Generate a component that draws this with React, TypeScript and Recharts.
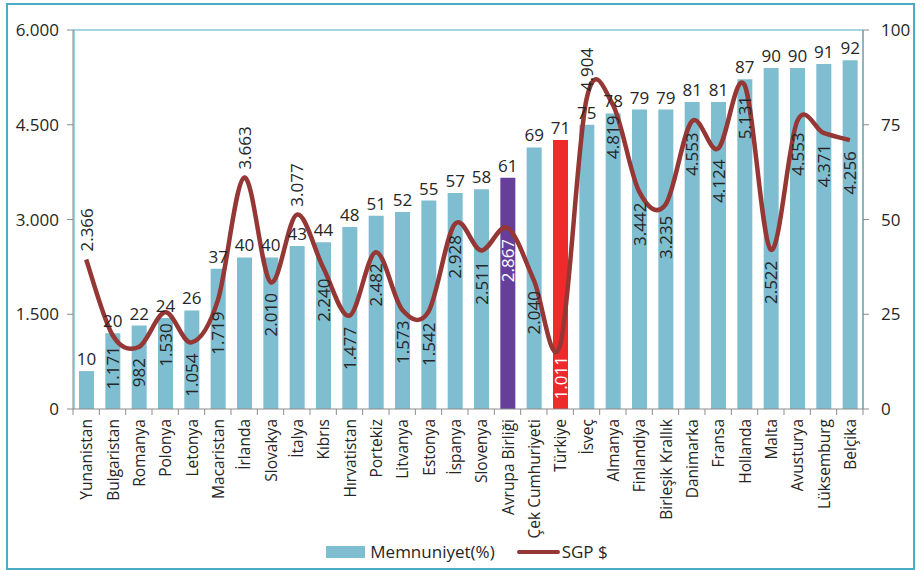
import {
  ComposedChart,
  Bar,
  Line,
  XAxis,
  YAxis,
  Legend,
  LabelList,
  Cell,
  CartesianGrid,
} from "recharts";

const countries = [
  "Yunanistan", "Bulgaristan", "Romanya", "Polonya", "Letonya", "Macaristan",
  "İrlanda", "Slovakya", "İtalya", "Kıbrıs", "Hırvatistan", "Portekiz",
  "Litvanya", "Estonya", "İspanya", "Slovenya", "Avrupa Birliği",
  "Çek Cumhuriyeti", "Türkiye", "İsveç", "Almanya", "Finlandiya",
  "Birleşik Krallık", "Danimarka", "Fransa", "Hollanda", "Malta",
  "Avusturya", "Lüksemburg", "Belçika",
];

// Memnuniyet (%), right axis
const memnuniyet = [
  10, 20, 22, 24, 26, 37, 40, 40, 43, 44, 48, 51, 52, 55, 57, 58, 61, 69, 71,
  75, 78, 79, 79, 81, 81, 87, 90, 90, 91, 92,
];

// SGP $, left axis
const sgp = [
  2366, 1171, 982, 1530, 1054, 1719, 3663, 2010, 3077, 2240, 1477, 2482, 1573,
  1542, 2928, 2511, 2867, 2040, 1011, 4904, 4819, 3442, 3235, 4553, 4124, 5131,
  2522, 4553, 4371, 4256,
];

const leftTicks = [0, 1500, 3000, 4500, 6000];
const rightTicks = [0, 25, 50, 75, 100];

const data = countries.map((name, i) => ({
  name,
  memnuniyet: memnuniyet[i],
  sgp: sgp[i],
}));

const BAR = "#7fbdd0";
const LINE = "#953735";
const TEXT = "#262626";
const AXIS = "#8c8c8c";
const FRAME = "#4bacc6";
const highlight: Record<string, string> = {
  "Avrupa Birliği": "#663f9a",
  "Türkiye": "#ee2a2b",
};
// line labels that Excel put above the point
const labelAbove = new Set(["Yunanistan", "İrlanda", "İtalya", "İsveç"]);

const W = 923;
const H = 570;
const margin = { top: 30, right: 10, bottom: 4, left: 13 };
const LEFT_W = 60;
const RIGHT_W = 50;
const XAXIS_H = 131;
const TICK_SIZE = 6;
const TICK_MARGIN = 2;
const band = (W - margin.left - margin.right - LEFT_W - RIGHT_W) / countries.length;

function fmt(n: number) {
  return String(n).replace(/\B(?=(\d{3})+(?!\d))/g, ".");
}

// Excel-like smoothed line (Catmull-Rom through the points)
function excelSmooth(context: any) {
  let pts: number[][] = [];
  return {
    areaStart() {},
    areaEnd() {},
    lineStart() {
      pts = [];
    },
    lineEnd() {
      if (!pts.length) return;
      context.moveTo(pts[0][0], pts[0][1]);
      for (let i = 0; i < pts.length - 1; i++) {
        const p0 = pts[i - 1] || pts[i];
        const p1 = pts[i];
        const p2 = pts[i + 1];
        const p3 = pts[i + 2] || p2;
        context.bezierCurveTo(
          p1[0] + (p2[0] - p0[0]) / 6,
          p1[1] + (p2[1] - p0[1]) / 6,
          p2[0] - (p3[0] - p1[0]) / 6,
          p2[1] - (p3[1] - p1[1]) / 6,
          p2[0],
          p2[1]
        );
      }
    },
    point(x: number, y: number) {
      pts.push([+x, +y]);
    },
  };
}

function CategoryTick(props: any) {
  const { x, y, payload, index } = props;
  const axisY = y - TICK_SIZE - TICK_MARGIN;
  return (
    <g>
      <line x1={x - band / 2} x2={x - band / 2} y1={axisY} y2={axisY + 6} stroke={AXIS} />
      {index === countries.length - 1 && (
        <line x1={x + band / 2} x2={x + band / 2} y1={axisY} y2={axisY + 6} stroke={AXIS} />
      )}
      <g transform={`translate(${x},${axisY + 10}) rotate(-90)`}>
        <text x={0} y={0} textAnchor="end" dominantBaseline="central" fill={TEXT} fontSize={15.5}>
          {payload.value}
        </text>
      </g>
    </g>
  );
}

function SgpLabel(props: any) {
  const { x, y, index, value } = props;
  const name = countries[index];
  const above = labelAbove.has(name);
  return (
    <g transform={`translate(${x},${y}) rotate(-90)`}>
      <text
        x={above ? 8 : -11}
        y={0}
        textAnchor={above ? "start" : "end"}
        dominantBaseline="central"
        fill={highlight[name] ? "#ffffff" : TEXT}
        fontSize={17}
      >
        {fmt(value)}
      </text>
    </g>
  );
}

function LegendContent() {
  return (
    <div
      style={{
        display: "flex",
        justifyContent: "center",
        alignItems: "center",
        gap: 22,
        fontSize: 17,
        color: TEXT,
        paddingLeft: 8,
      }}
    >
      <span style={{ display: "flex", alignItems: "center" }}>
        <span style={{ width: 39, height: 12, background: BAR, marginRight: 5 }} />
        Memnuniyet(%)
      </span>
      <span style={{ display: "flex", alignItems: "center" }}>
        <span style={{ width: 43, height: 4, borderRadius: 2, background: LINE, marginRight: 2 }} />
        SGP $
      </span>
    </div>
  );
}

export default function App() {
  return (
    <div
      style={{
        position: "absolute",
        left: 0,
        top: 0,
        width: W,
        height: H,
        fontFamily: "'Open Sans', sans-serif",
      }}
    >
      <ComposedChart width={W} height={H} data={data} margin={margin} barSize={15}>
        <CartesianGrid
          stroke={FRAME}
          horizontalCoordinatesGenerator={({ offset }: any) => [offset.top]}
          verticalCoordinatesGenerator={({ offset }: any) => [offset.left + 1, offset.left + offset.width]}
        />
        <XAxis
          dataKey="name"
          interval={0}
          height={XAXIS_H}
          tickLine={false}
          tickSize={TICK_SIZE}
          tickMargin={TICK_MARGIN}
          stroke={AXIS}
          tick={<CategoryTick />}
        />
        <YAxis
          yAxisId="left"
          width={LEFT_W}
          domain={[0, 6000]}
          ticks={leftTicks}
          tickFormatter={fmt}
          stroke={AXIS}
          tickSize={6}
          tickMargin={8}
          tick={{ fill: TEXT, fontSize: 17 }}
        />
        <YAxis
          yAxisId="right"
          orientation="right"
          width={RIGHT_W}
          domain={[0, 100]}
          ticks={rightTicks}
          stroke={AXIS}
          tickSize={6}
          tickMargin={12}
          tick={{ fill: TEXT, fontSize: 17 }}
        />
        <Legend verticalAlign="bottom" height={26} content={<LegendContent />} />
        <Bar yAxisId="right" dataKey="memnuniyet" name="Memnuniyet(%)" fill={BAR} isAnimationActive={false}>
          {data.map((d) => (
            <Cell key={d.name} fill={highlight[d.name] || BAR} />
          ))}
          <LabelList dataKey="memnuniyet" position="top" offset={6} fill={TEXT} fontSize={17} />
        </Bar>
        <Line
          yAxisId="left"
          dataKey="sgp"
          name="SGP $"
          type={excelSmooth as any}
          stroke={LINE}
          strokeWidth={4.5}
          dot={false}
          activeDot={false}
          isAnimationActive={false}
          label={<SgpLabel />}
        />
      </ComposedChart>
      <div
        style={{
          position: "absolute",
          left: 6,
          top: 3,
          width: 909,
          height: 567,
          boxSizing: "border-box",
          border: `2px solid ${FRAME}`,
          pointerEvents: "none",
          zIndex: 5,
        }}
      />
    </div>
  );
}
